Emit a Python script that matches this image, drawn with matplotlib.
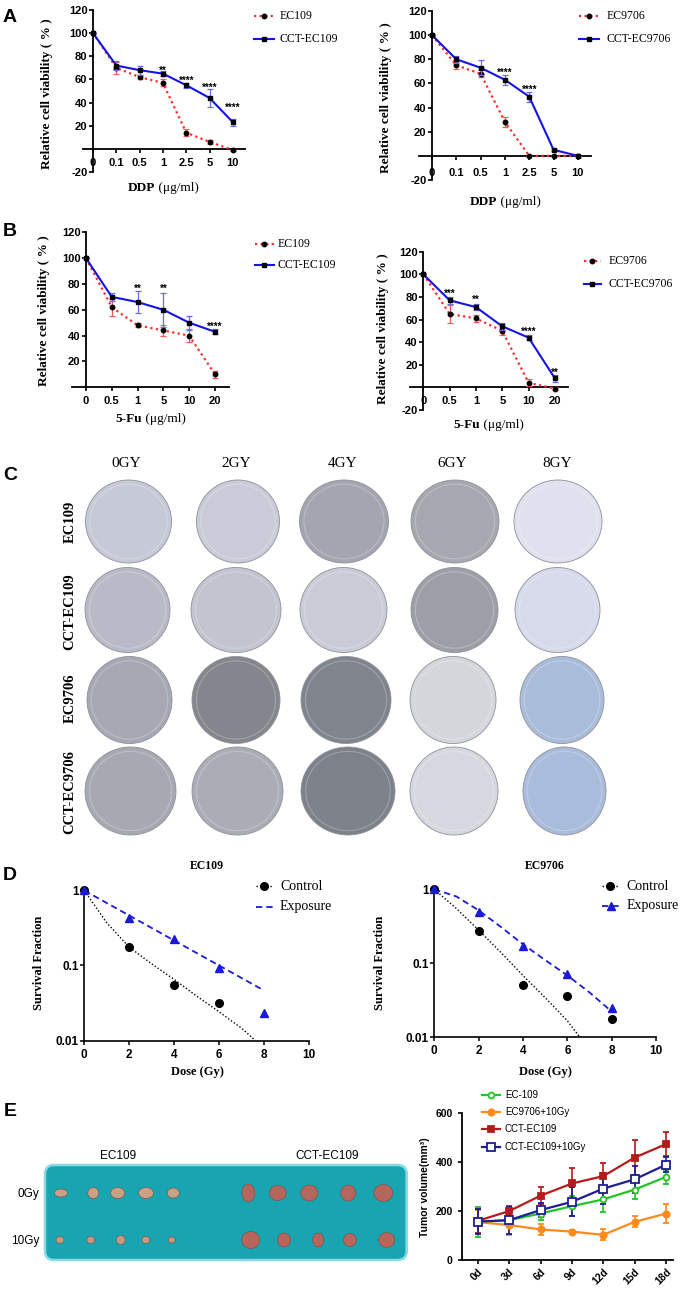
import matplotlib
matplotlib.use('Agg')
import matplotlib.pyplot as plt
from matplotlib.patches import Ellipse, FancyBboxPatch
from matplotlib.lines import Line2D
from matplotlib.ticker import NullLocator
import numpy as np

plt.rcParams['font.family'] = ['Liberation Sans', 'DejaVu Sans']
plt.rcParams['axes.unicode_minus'] = False
W, H = 685, 1290
SERIF = ['Liberation Serif', 'DejaVu Serif']
SANS = ['Liberation Sans', 'DejaVu Sans']

# ---------------- data ----------------
ddp_doses = ['0', '0.1', '0.5', '1', '2.5', '5', '10']
fu_doses = ['0', '0.5', '1', '5', '10', '20']

a1_ec109 = [100, 70, 62, 57, 14, 6, -1]
a1_ec109_sd = [0, 5, 2, 3, 3, 2, 1]
a1_cct = [100, 72, 68, 65, 55, 44, 23]
a1_cct_sd = [0, 4, 4, 2, 2, 8, 3]
a1_stars = ['', '', '', '**', '****', '****', '****']
a1_star_y = [0, 0, 0, 69.7, 61, 55, 38]

a2_ec9706 = [100, 75, 68, 28, 0, 0, 0]
a2_ec9706_sd = [0, 3, 3, 4, 0, 0, 0]
a2_cct = [100, 80, 73, 63, 49, 5, 0]
a2_cct_sd = [0, 3, 6, 4, 4, 1, 0]
a2_stars = ['', '', '', '****', '****', '', '']
a2_star_y = [0, 0, 0, 71, 57, 0, 0]

b1_ec109 = [100, 62, 48, 44, 40, 10]
b1_ec109_sd = [0, 6.5, 1.5, 4, 5, 2.5]
b1_cct = [100, 70, 66, 60, 50, 43]
b1_cct_sd = [0, 3, 8.5, 13, 5.5, 2]
b1_stars = ['', '', '**', '**', '', '****']
b1_star_y = [0, 0, 78.5, 78.5, 0, 49]

b2_ec9706 = [100, 65, 61, 50, 4, -1]
b2_ec9706_sd = [0, 8, 3, 4, 3, 1]
b2_cct = [100, 77, 71, 54, 44, 8]
b2_cct_sd = [0, 3, 3, 3, 2, 3]
b2_stars = ['', '***', '**', '', '****', '**']
b2_star_y = [0, 85.3, 79.7, 0, 51.4, 15.4]

gy_labels = ['0GY', '2GY', '4GY', '6GY', '8GY']
cell_lines = ['EC109', 'CCT-EC109', 'EC9706', 'CCT-EC9706']
plate_colors = [
    ['#c6cad6', '#c9ccd8', '#a3a6b0', '#a5a8ae', '#dfe1ee'],
    ['#b8bbc7', '#c2c5d0', '#c9ccd7', '#9c9fa6', '#d6daeb'],
    ['#a6a9b3', '#83878d', '#80848c', '#d3d6db', '#a9bddb'],
    ['#a7a9b2', '#abadb6', '#7d818a', '#d5d8de', '#a9bcdb'],
]

dose_gy = [0, 2, 4, 6, 8]
d1_ctrl_dose = [0, 2, 4, 6]
d1_ctrl_sf = [1.0, 0.175, 0.055, 0.032]
d1_exp_sf = [1.0, 0.43, 0.224, 0.094, 0.023]
d1_ctrl_fit_dose = [0, 1, 2, 3, 4, 5, 6, 7, 7.6]
d1_ctrl_fit_sf = [1.0, 0.37, 0.175, 0.105, 0.065, 0.039, 0.024, 0.0145, 0.01]
d1_exp_fit_dose = [0, 7.9]
d1_exp_fit_sf = [1.0, 0.048]

d2_ctrl_sf = [1.0, 0.27, 0.051, 0.036, 0.0174]
d2_exp_sf = [1.0, 0.49, 0.17, 0.071, 0.025]
d2_ctrl_fit_dose = [0, 1, 2, 3, 4, 5, 6, 6.55]
d2_ctrl_fit_sf = [1.0, 0.55, 0.28, 0.14, 0.068, 0.034, 0.0165, 0.01]
d2_exp_fit_dose = [0, 1, 2, 3, 4, 5, 6, 7, 8]
d2_exp_fit_sf = [1.0, 0.8, 0.52, 0.31, 0.18, 0.11, 0.068, 0.04, 0.022]

days = ['0d', '3d', '6d', '9d', '12d', '15d', '18d']
vol_ec109 = [155, 163, 190, 220, 248, 288, 340]
vol_ec109_sd = [60, 25, 25, 40, 50, 40, 30]
vol_ec9706_10gy = [155, 143, 125, 116, 103, 156, 190]
vol_ec9706_10gy_sd = [50, 40, 22, 8, 22, 22, 40]
vol_cct = [160, 200, 263, 313, 343, 419, 474]
vol_cct_sd = [50, 20, 35, 65, 55, 70, 50]
vol_cct_10gy = [157, 163, 204, 238, 292, 330, 390]
vol_cct_10gy_sd = [50, 55, 30, 60, 65, 55, 30]
e_series_names = ['EC-109', 'EC9706+10Gy', 'CCT-EC109', 'CCT-EC109+10Gy']

# ---------------- figure ----------------
fig = plt.figure(figsize=(W / 100, H / 100), dpi=100)
bg = fig.add_axes([0, 0, 1, 1], zorder=0)
bg.set_xlim(0, W)
bg.set_ylim(H, 0)
bg.axis('off')
renderer = fig.canvas.get_renderer()


def ax_px(l, r, t, b):
    a = fig.add_axes([l / W, 1 - b / H, (r - l) / W, (b - t) / H], zorder=2)
    a.patch.set_alpha(0)
    return a


def bold_ticks(ax):
    for t in ax.get_xticklabels() + ax.get_yticklabels():
        t.set_fontweight('bold')


RED = '#ff2b2b'
RED_E = '#ff5a5a'
BLUE = '#1414e6'
BLUE_E = '#6a6af0'


def viability(rect, xlim, ylim, yticks, labels, ec, ec_sd, cct, cct_sd,
              stars, star_y, xpad):
    ax = ax_px(*rect)
    x = np.arange(len(labels))
    ax.errorbar(x, ec, yerr=ec_sd, color=RED, ls=(0, (1, 1.5)), lw=1.6,
                marker='o', ms=3.2, mfc='k', mec='k', ecolor=RED_E,
                elinewidth=0.9, capsize=2, capthick=0.9, zorder=3)
    ax.errorbar(x, cct, yerr=cct_sd, color=BLUE, ls='-', lw=1.5,
                marker='s', ms=3.2, mfc='k', mec='k', ecolor=BLUE_E,
                elinewidth=0.9, capsize=2, capthick=0.9, zorder=4)
    ax.set_xlim(*xlim)
    ax.set_ylim(*ylim)
    for s in ['top', 'right']:
        ax.spines[s].set_visible(False)
    ax.spines['left'].set_position(('data', 0))
    ax.spines['bottom'].set_position(('data', 0))
    for s in ['left', 'bottom']:
        ax.spines[s].set_linewidth(1.3)
    ax.set_xticks(x, labels)
    ax.set_yticks(yticks)
    ax.tick_params(axis='both', width=1.2, length=3, labelsize=8,
                   direction='out')
    ax.tick_params(axis='x', pad=xpad)
    ax.tick_params(axis='y', pad=1)
    bold_ticks(ax)
    for i, (s, y) in enumerate(zip(stars, star_y)):
        if s:
            ax.annotate(s, (i, y), xytext=(0, -4), textcoords='offset points',
                        ha='center', va='baseline', fontsize=7,
                        fontweight='bold')
    return ax


viability((83, 244.5, 10, 172), (-0.43, 6.5), (-20, 120),
          [-20, 20, 40, 60, 80, 100, 120], ddp_doses,
          a1_ec109, a1_ec109_sd, a1_cct, a1_cct_sd, a1_stars, a1_star_y, 3.5)
viability((419, 591, 11, 180), (-0.535, 6.54), (-20, 120),
          [-20, 20, 40, 60, 80, 100, 120], ddp_doses,
          a2_ec9706, a2_ec9706_sd, a2_cct, a2_cct_sd, a2_stars, a2_star_y, 5.5)
viability((71.5, 229.2, 232.3, 387.3), (-0.56, 5.55), (0, 120),
          [20, 40, 60, 80, 100, 120], fu_doses,
          b1_ec109, b1_ec109_sd, b1_cct, b1_cct_sd, b1_stars, b1_star_y, 3)
viability((410, 567.8, 251.7, 410), (-0.506, 5.49), (-20, 120),
          [-20, 20, 40, 60, 80, 100, 120], fu_doses,
          b2_ec9706, b2_ec9706_sd, b2_cct, b2_cct_sd, b2_stars, b2_star_y, 3)

# viability axis labels
YL = 'Relative cell viability ( % )'
for (x, y) in [(47, 94), (386, 98), (44, 311), (383, 329)]:
    bg.text(x, y, YL, rotation=90, ha='center', va='center', fontsize=9.5,
            fontweight='bold', family=SERIF)


def two_part(cx, cy, bold, rest, size):
    t1 = bg.text(cx, cy, bold, fontsize=size, fontweight='bold', family=SERIF,
                 ha='left', va='center')
    t2 = bg.text(cx, cy, rest, fontsize=size, family=SERIF, ha='left',
                 va='center')
    w1 = t1.get_window_extent(renderer).width
    w2 = t2.get_window_extent(renderer).width
    x0 = cx - (w1 + w2) / 2
    t1.set_x(x0)
    t2.set_x(x0 + w1)


two_part(163, 188, 'DDP', ' (μg/ml)', 9.5)
two_part(505, 202, 'DDP', ' (μg/ml)', 9.5)
two_part(150.5, 419, '5-Fu', ' (μg/ml)', 9.5)
two_part(489, 425, '5-Fu', ' (μg/ml)', 9.5)


def legend_entry(x0, x1, y, xt, text, lkw, mkw=None, size=8.5, family=SERIF):
    if lkw is not None:
        bg.add_line(Line2D([x0, x1], [y, y], **lkw))
    if mkw is not None:
        bg.plot([(x0 + x1) / 2], [y], **mkw)
    bg.text(xt, y, text, ha='left', va='center', fontsize=size, family=family)


red_l = dict(color=RED, ls=(0, (1, 1.5)), lw=1.6)
red_m = dict(marker='o', ms=3.2, color='k', ls='none')
blue_l = dict(color=BLUE, lw=1.5)
blue_m = dict(marker='s', ms=3.2, color='k', ls='none')
for (x0, x1, xt, y1, y2, n1, n2) in [
        (254, 274, 280, 16, 39, 'EC109', 'CCT-EC109'),
        (579, 599, 607, 16, 39, 'EC9706', 'CCT-EC9706'),
        (255, 274, 278, 244, 265, 'EC109', 'CCT-EC109'),
        (584, 601, 609, 260.7, 284, 'EC9706', 'CCT-EC9706')]:
    legend_entry(x0, x1, y1, xt, n1, red_l, red_m)
    legend_entry(x0, x1, y2, xt, n2, blue_l, blue_m)

# panel letters
for (x, y, s) in [(10, 17, 'A'), (10, 232, 'B'), (10, 475, 'C'),
                  (10, 875, 'D'), (10, 1112, 'E')]:
    bg.text(x, y, s, ha='center', va='center', fontsize=14, fontweight='bold',
            family=SANS)

# ---------------- panel C (colony plates) ----------------
col_label_x = [126.3, 236, 342.2, 452.6, 557]
for x, s in zip(col_label_x, gy_labels):
    bg.text(x, 463.3, s, ha='center', va='center', fontsize=11, family=SERIF)
row_label_y = [521.7, 612, 698, 792]
for y, s in zip(row_label_y, cell_lines):
    bg.text(70, y, s, rotation=90, ha='center', va='center', fontsize=10.5,
            fontweight='bold', family=SERIF)

plate_rows = [
    (521.5, 83, [128.5, 238, 344, 455, 558], [86, 83, 89, 88, 88]),
    (610, 85, [127.5, 236, 343.5, 454.5, 557.5], [85, 90, 87, 87, 85]),
    (700, 87, [129.5, 236, 346, 453, 562], [85, 88, 90, 86, 84]),
    (791, 88, [130.5, 237.5, 348, 454, 564.5], [91, 91, 94, 88, 83]),
]
for r, (cy, h, xs, ws) in enumerate(plate_rows):
    for c, (cx, w) in enumerate(zip(xs, ws)):
        bg.add_patch(Ellipse((cx, cy), w, h, facecolor=plate_colors[r][c],
                             edgecolor='#8e919a', lw=0.6, zorder=1))
        bg.add_patch(Ellipse((cx, cy), w * 0.9, h * 0.9,
                             facecolor='none', edgecolor='white', lw=0.8,
                             alpha=0.25, zorder=1))

# ---------------- panel D (survival) ----------------
BLUE_D = '#1a1ad6'


def survival(rect, ctrl_d, ctrl_sf, exp_sf, cf_d, cf_sf, ef_d, ef_sf):
    ax = ax_px(*rect)
    ax.set_yscale('log')
    ax.plot(cf_d, cf_sf, color='k', ls=(0, (1, 1.5)), lw=1.0, zorder=2)
    ax.plot(ef_d, ef_sf, color=BLUE_D, ls=(0, (3.5, 2.2)), lw=1.3, zorder=2)
    ax.plot(ctrl_d, ctrl_sf, 'o', color='k', ms=5.5, clip_on=False, zorder=3)
    ax.plot(dose_gy, exp_sf, '^', color=BLUE_D, ms=6, clip_on=False, zorder=3)
    ax.set_xlim(0, 10)
    ax.set_ylim(0.01, 1.12)
    ax.set_yticks([0.01, 0.1, 1], ['0.01', '0.1', '1'])
    ax.yaxis.set_minor_locator(NullLocator())
    ax.set_xticks([0, 2, 4, 6, 8, 10])
    for s in ['top', 'right']:
        ax.spines[s].set_visible(False)
    for s in ['left', 'bottom']:
        ax.spines[s].set_linewidth(1.2)
    ax.tick_params(axis='both', width=1.1, length=3, labelsize=8.5)
    ax.tick_params(axis='x', pad=3)
    ax.tick_params(axis='y', pad=1)
    bold_ticks(ax)
    return ax


survival((84.3, 309.3, 886.8, 1040.5), d1_ctrl_dose, d1_ctrl_sf, d1_exp_sf,
         d1_ctrl_fit_dose, d1_ctrl_fit_sf, d1_exp_fit_dose, d1_exp_fit_sf)
survival((434.2, 656.3, 885.7, 1037), dose_gy, d2_ctrl_sf, d2_exp_sf,
         d2_ctrl_fit_dose, d2_ctrl_fit_sf, d2_exp_fit_dose, d2_exp_fit_sf)

for (x, s) in [(207, 'EC109'), (545, 'EC9706')]:
    bg.text(x, 866, s, ha='center', va='center', fontsize=8.5,
            fontweight='bold', family=SERIF)
for x in [39, 380]:
    bg.text(x, 963, 'Survival Fraction', rotation=90, ha='center', va='center',
            fontsize=9, fontweight='bold', family=SERIF)
for x in [197, 545]:
    bg.text(x, 1072, 'Dose (Gy)', ha='center', va='center', fontsize=9,
            fontweight='bold', family=SERIF)

ctrl_l = dict(color='k', ls=(0, (1, 1.5)), lw=1.0)
ctrl_m = dict(marker='o', ms=5.5, color='k', ls='none')
exp_l = dict(color=BLUE_D, ls=(0, (3.5, 2.2)), lw=1.3)
exp_m = dict(marker='^', ms=6, color=BLUE_D, ls='none')
legend_entry(256, 272, 886, 280, 'Control', ctrl_l, ctrl_m, size=10)
legend_entry(256, 273, 906.7, 280, 'Exposure', exp_l, None, size=10)
legend_entry(602, 618, 886, 626.5, 'Control', ctrl_l, ctrl_m, size=10)
legend_entry(602, 620, 906, 626.5, 'Exposure', exp_l, exp_m, size=10)

# ---------------- panel E (tumour photo) ----------------
bg.add_patch(FancyBboxPatch((45, 1165), 361.7, 95,
                            boxstyle='round,pad=0,rounding_size=9',
                            facecolor='#19a4b1', edgecolor='#86dbe4', lw=1.8,
                            zorder=1))
bg.text(118, 1156, 'EC109', ha='center', va='center', fontsize=8.5,
        family=SANS)
bg.text(327, 1156, 'CCT-EC109', ha='center', va='center', fontsize=8.5,
        family=SANS)
bg.text(39, 1194, '0Gy', ha='right', va='center', fontsize=8.5, family=SANS)
bg.text(39, 1241, '10Gy', ha='right', va='center', fontsize=8.5, family=SANS)

tumour_rows = [
    (1193, [61, 93.3, 117.7, 146, 173.3], [13, 11, 14, 15, 12],
     [8, 11, 11, 11, 10], '#c9a286'),
    (1193, [248.3, 277.7, 309.3, 348.3, 383.3], [13, 17, 17, 15, 19],
     [18, 15, 16, 16, 17], '#b6675d'),
    (1240, [60, 90.7, 120.7, 145.7, 171.7], [8, 8, 9, 8, 7],
     [7, 7, 9, 7, 6], '#c49a80'),
    (1240, [250.7, 284, 318.3, 350, 386.7], [18, 13, 11, 13, 16],
     [17, 14, 14, 13, 15], '#b8665c'),
]
for cy, xs, ws, hs, col in tumour_rows:
    for cx, w, h in zip(xs, ws, hs):
        bg.add_patch(Ellipse((cx, cy), w, h, facecolor=col,
                             edgecolor='#7a4a40', lw=0.4, zorder=2))

# ---------------- panel E (growth curves) ----------------
ax = ax_px(461.7, 673.3, 1113.3, 1260)
xd = np.arange(len(days))
e_styles = [
    (vol_ec109, vol_ec109_sd, '#22c322', 'o', 4.2, 'white'),
    (vol_ec9706_10gy, vol_ec9706_10gy_sd, '#ff8a1c', 'o', 4.5, '#ff8a1c'),
    (vol_cct, vol_cct_sd, '#b41c1c', 's', 4.5, '#b41c1c'),
    (vol_cct_10gy, vol_cct_10gy_sd, '#1e1e92', 's', 5.5, 'white'),
]
for vals, sd, col, mk, ms, mfc in e_styles:
    ax.errorbar(xd, vals, yerr=sd, color=col, lw=1.6, marker=mk, ms=ms,
                mfc=mfc, mec=col, mew=1.3, ecolor=col, elinewidth=1.2,
                capsize=2.5, capthick=1.2)
ax.set_xlim(-0.51, 6.23)
ax.set_ylim(0, 600)
ax.set_yticks([0, 200, 400, 600])
ax.set_xticks(xd, days)
for s in ['top', 'right']:
    ax.spines[s].set_visible(False)
for s in ['left', 'bottom']:
    ax.spines[s].set_linewidth(1.3)
ax.tick_params(axis='both', width=1.2, length=3, labelsize=7.5)
ax.tick_params(axis='x', pad=2)
bold_ticks(ax)
for t in ax.get_xticklabels():
    t.set_rotation(45)
    t.set_ha('right')
    t.set_rotation_mode('anchor')

bg.text(425, 1187, 'Tumor volume(mm³)', rotation=90, ha='center',
        va='center', fontsize=7.5, fontweight='bold', family=SANS)
for (vals, sd, col, mk, ms, mfc), name, y in zip(
        e_styles, e_series_names, [1095, 1112.3, 1129.3, 1146.7]):
    legend_entry(481.7, 500, y, 505, name, dict(color=col, lw=1.6),
                 dict(marker=mk, ms=ms, mfc=mfc, mec=col, mew=1.3,
                      ls='none'), size=7, family=SANS)

fig.savefig('out.png', dpi=100)
